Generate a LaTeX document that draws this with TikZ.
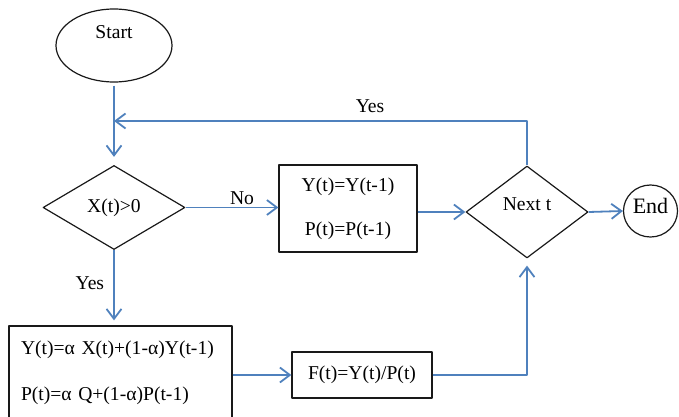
\documentclass[tikz,border=0pt]{standalone}
\usepackage{fontspec}
\setmainfont{Liberation Serif}
\usetikzlibrary{shapes.geometric,arrows.meta}
\definecolor{flowBlue}{RGB}{79,129,189}
\definecolor{edgeBlack}{RGB}{25,25,25}

\begin{document}
\begin{tikzpicture}[x=1pt,y=-1pt,line join=round,
  font=\fontsize{19.6}{23}\selectfont,
  terminal/.style={ellipse,draw=edgeBlack,line width=1.2pt,inner sep=0pt},
  decision/.style={diamond,draw=edgeBlack,line width=1.2pt,inner sep=0pt},
  process/.style={rectangle,draw=edgeBlack,line width=1.2pt,inner sep=0pt},
  flow/.style={draw=flowBlue,line width=1.8pt,-{Straight Barb[length=10pt,width=15pt]}},
  tag/.style={inner sep=2pt}]

% fixed canvas, same proportions as 679x417
\useasboundingbox (0,0) rectangle (679,417);

% start / end terminals
\node[terminal,minimum width=116pt,minimum height=73pt,text height=13pt,text depth=26pt] (start) at (114,45.5) {Start};
\node[terminal,minimum width=54pt,minimum height=52pt,font=\fontsize{22}{26}\selectfont,text height=14pt,text depth=10pt] (end) at (650.5,211) {End};

% decisions
\node[decision,minimum width=142pt,minimum height=84pt] (check) at (114,207.5) {X(t)>0};
\node[decision,minimum width=122pt,minimum height=92pt,text height=13pt,text depth=17pt] (next) at (527,212) {Next t};

% process boxes
\node[process,minimum width=138pt,minimum height=87pt,align=center] (hold) at (348,208.5) {Y(t)=Y(t-1)\\[21pt]P(t)=P(t-1)};
\node[process,minimum width=223pt,minimum height=94pt,text width=199pt,align=left] (smooth) at (120.5,373) {Y(t)=α X(t)+(1-α)Y(t-1)\\[23pt]P(t)=α Q+(1-α)P(t-1)};
\node[process,minimum width=140pt,minimum height=46pt] (ratio) at (362,375) {F(t)=Y(t)/P(t)};

% loop-back point on the entry line
\coordinate (back) at (114,121);

% connectors
\draw[flow,shorten <=3pt,shorten >=8pt] (start.south) -- (check.north);
\draw[flow] (next.north) |- (back) node[tag,above,pos=0.69,yshift=5pt] {Yes};
\draw[flow] (check.east) -- (check.east -| hold.west) node[tag,midway,above,xshift=10pt] {No};
\draw[flow] (hold.east |- next) -- (next.west);
\draw[flow] (next.east) -- (end.west);
\draw[flow,shorten >=5pt] (check.south) -- (check.south |- smooth.north) node[tag,midway,left,xshift=-7pt,yshift=5pt] {Yes};
\draw[flow] (smooth.east |- ratio) -- (ratio.west);
\draw[flow,shorten >=7pt] (ratio.east) -| (next.south);

\end{tikzpicture}
\end{document}
